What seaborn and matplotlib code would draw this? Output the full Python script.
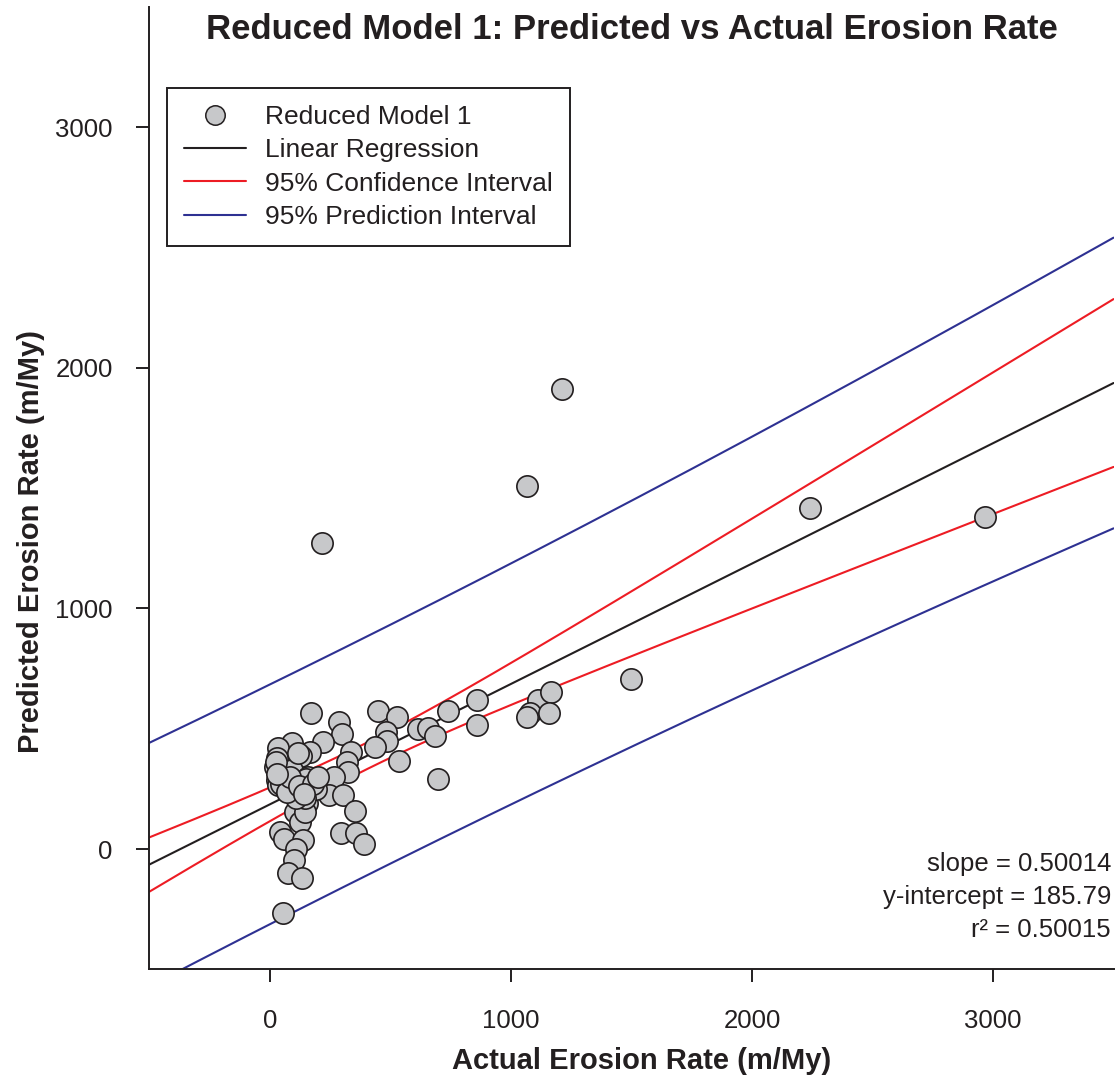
"""
Reduced Model 1: predicted vs actual erosion rate
"""

import numpy as np
import seaborn as sns
import matplotlib.pyplot as plt
from matplotlib.lines import Line2D

# actual erosion rate (m/My)
actual = [216, 1066, 1212, 2241, 2967, 1498, 697, 859, 859, 739,
          614, 656, 685, 1112, 1166, 1079, 1066, 1158, 535, 448,
          527, 481, 485, 436, 286, 299, 336, 319, 324, 266,
          245, 303, 353, 295, 357, 390, 170, 220, 166, 129,
          91, 33, 29, 21, 91, 29, 33, 62, 95, 133,
          158, 166, 104, 124, 154, 145, 41, 58, 137, 108,
          100, 75, 133, 54, 25, 150, 60, 190, 145, 110,
          40, 116, 45, 70, 85, 120, 180, 200, 30, 140]
# predicted erosion rate (m/My)
predicted = [1271, 1508, 1911, 1417, 1379, 706, 291, 619, 515, 573,
             499, 503, 469, 619, 652, 565, 548, 565, 366, 573,
             548, 486, 449, 424, 528, 478, 403, 361, 320, 299,
             224, 224, 158, 66, 66, 21, 565, 445, 403, 386,
             440, 420, 378, 341, 328, 287, 266, 253, 245, 274,
             299, 258, 154, 112, 191, 154, 71, 42, 37, 0,
             -46, -100, -120, -266, 360, 290, 280, 250, 210, 210,
             300, 399, 270, 235, 300, 260, 270, 300, 310, 230]

slope = 0.50014
intercept = 185.79
r_squared = 0.50015
t_crit = 1.99

x = np.array(actual, dtype=float)
y = np.array(predicted, dtype=float)
n = len(x)
xbar = x.mean()
sxx = ((x - xbar) ** 2).sum()
resid = y - (intercept + slope * x)
s = np.sqrt((resid ** 2).sum() / (n - 2))

xs = np.linspace(-500, 3500, 200)
fit = intercept + slope * xs
ci = t_crit * s * np.sqrt(1 / n + (xs - xbar) ** 2 / sxx)
pi = t_crit * s * np.sqrt(1 + 1 / n + (xs - xbar) ** 2 / sxx)

sns.set_theme(style="ticks")
plt.rcParams['font.family'] = ['Liberation Sans', 'DejaVu Sans']

black = '#231f20'
red = '#ed1c24'
blue = '#2e3192'
grey = '#c7c8ca'

fig = plt.figure(figsize=(11.18, 10.81), dpi=100)
ax = fig.add_axes([0.1337, 0.1033, 0.8623, 0.8905])

ax.plot(xs, fit, color=black, lw=1.5, zorder=2)
ax.plot(xs, fit + ci, color=red, lw=1.5, zorder=2)
ax.plot(xs, fit - ci, color=red, lw=1.5, zorder=2)
ax.plot(xs, fit + pi, color=blue, lw=1.5, zorder=2)
ax.plot(xs, fit - pi, color=blue, lw=1.5, zorder=2)

sns.scatterplot(x=x, y=y, ax=ax, s=235, color=grey, edgecolor=black,
                linewidth=1.2, zorder=3, legend=False)

ax.set_xlim(-500, 3500)
ax.set_ylim(-500, 3500)
ax.set_xticks([0, 1000, 2000, 3000])
ax.set_yticks([0, 1000, 2000, 3000])
ax.tick_params(axis='both', length=9.5, width=1.4, color=black,
               labelsize=18.5, labelcolor=black)
ax.tick_params(axis='x', pad=19)
ax.tick_params(axis='y', pad=17)
for side in ['top', 'right']:
    ax.spines[side].set_visible(False)
for side in ['left', 'bottom']:
    ax.spines[side].set_linewidth(1.4)
    ax.spines[side].set_color(black)

ax.set_xlabel('Actual Erosion Rate (m/My)', fontsize=21,
              fontweight='bold', color=black)
ax.set_ylabel('Predicted Erosion Rate (m/My)', fontsize=21,
              fontweight='bold', color=black)
ax.xaxis.set_label_coords(0.511, -0.081)
ax.yaxis.set_label_coords(-0.108, 0.444)

ax.set_title('Reduced Model 1: Predicted vs Actual Erosion Rate',
             fontsize=25, fontweight='bold', color=black,
             x=0.5, y=0.958)

stats = ['slope = %.5f' % slope,
         'y-intercept = %.2f' % intercept,
         'r\u00b2 = %.5f' % r_squared]
for i, line in enumerate(stats):
    ax.text(0.9974, 0.1094 - i * 0.0343, line, transform=ax.transAxes,
            ha='right', va='center', fontsize=18.5, color=black)

handles = [
    Line2D([], [], marker='o', ls='none', markersize=14,
           markerfacecolor=grey, markeredgecolor=black, markeredgewidth=1.1),
    Line2D([], [], color=black, lw=1.5),
    Line2D([], [], color=red, lw=1.5),
    Line2D([], [], color=blue, lw=1.5),
]
labels = ['Reduced Model 1', 'Linear Regression',
          '95% Confidence Interval', '95% Prediction Interval']
leg = ax.legend(handles, labels, loc='upper left',
                bbox_to_anchor=(0.018, 0.9155), borderaxespad=0,
                fontsize=19, handlelength=2.35, handletextpad=0.72,
                labelspacing=0.35, borderpad=0.65, fancybox=False,
                framealpha=1, edgecolor=black)
leg.get_frame().set_linewidth(1.4)
for t in leg.get_texts():
    t.set_color(black)

fig.savefig('out.png', dpi=100)
